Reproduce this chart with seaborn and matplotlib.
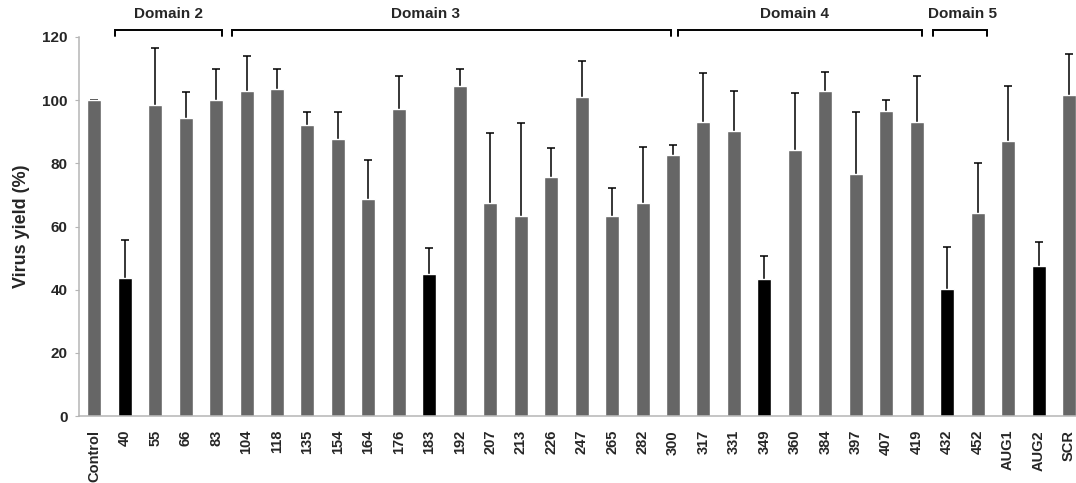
import matplotlib
matplotlib.use("Agg")
import matplotlib.pyplot as plt
import seaborn as sns
import pandas as pd
import numpy as np

# ---- data ----
labels = ["Control", "40", "55", "66", "83", "104", "118", "135", "154", "164",
          "176", "183", "192", "207", "213", "226", "247", "265", "282", "300",
          "317", "331", "349", "360", "384", "397", "407", "419", "432", "452",
          "AUG1", "AUG2", "SCR"]
yields = [100.0, 43.7, 98.6, 94.2, 100.0, 103.0, 103.6, 92.1, 87.6, 68.8,
          97.1, 44.9, 104.5, 67.4, 63.3, 75.8, 101.0, 63.3, 67.4, 82.5,
          93.2, 90.1, 43.4, 84.1, 102.9, 76.7, 96.6, 93.2, 40.1, 64.4,
          87.1, 47.6, 101.6]
err_upper = [100.2, 55.6, 116.5, 102.7, 110.0, 114.0, 110.0, 96.2, 96.2, 81.2,
             107.5, 53.2, 110.0, 89.7, 92.7, 84.9, 112.5, 72.3, 85.3, 85.7,
             108.7, 103.0, 50.7, 102.2, 109.0, 96.1, 100.2, 107.5, 53.5, 80.2,
             104.5, 55.2, 114.5]
significant = ["40", "183", "349", "432", "AUG2"]

domain_names = ["Domain 2", "Domain 3", "Domain 4", "Domain 5"]
domain_spans = [(0.68, 4.18), (4.52, 18.93), (19.18, 27.19), (27.54, 29.31)]
domain_label_x = [2.43, 10.86, 23.0, 28.49]

# ---- style ----
sns.set_theme(style="white")
plt.rcParams["font.family"] = ["Liberation Sans", "DejaVu Sans"]
plt.rcParams["font.weight"] = "bold"

df = pd.DataFrame({"label": labels, "yield": yields})
gray = "#666666"
palette = {l: ("#000000" if l in significant else gray) for l in labels}

fig = plt.figure(figsize=(10.76, 4.83), dpi=100)
ax = fig.add_axes([0.0734, 0.1387, 0.9266, 0.7847])

sns.barplot(data=df, x="label", y="yield", hue="label", palette=palette,
            order=labels, hue_order=labels, width=0.46, legend=False,
            saturation=1, ax=ax, errorbar=None, zorder=2)

pos = np.arange(len(labels))
yv = np.array(yields)
up = np.array(err_upper) - yv
eb = ax.errorbar(pos, yv, yerr=[np.zeros_like(up), up], fmt="none",
                 ecolor="black", elinewidth=1.1, capsize=2.6, capthick=1.1,
                 zorder=1)
# hide the lower caps (only upward error bars are shown)
if len(eb[1]) >= 2:
    eb[1][0].set_visible(False)

ax.set_ylim(0, 120)
ax.set_xlim(-0.5, 32.23)
ax.set_yticks([0, 20, 40, 60, 80, 100, 120])
ax.set_xlabel("")
ax.set_ylabel("Virus yield (%)", fontsize=13, fontweight="bold", labelpad=9)

for s in ["top", "right"]:
    ax.spines[s].set_visible(False)
for s in ["left", "bottom"]:
    ax.spines[s].set_color("#b5b5b5")
    ax.spines[s].set_linewidth(1.1)

ax.tick_params(axis="y", which="both", left=True, length=3, width=0.8,
               color="#b5b5b5", pad=5, labelsize=11)
ax.tick_params(axis="x", bottom=False, pad=4, labelsize=10.5)
plt.setp(ax.get_xticklabels(), rotation=90, fontweight="bold")
plt.setp(ax.get_yticklabels(), fontweight="bold")

# ---- domain brackets ----
trans = ax.get_xaxis_transform()
y_line = 1.018
y_tick = 1.003
for name, (x0, x1), lx in zip(domain_names, domain_spans, domain_label_x):
    ax.plot([x0, x0, x1, x1], [y_tick, y_line, y_line, y_tick], transform=trans,
            color="black", lw=1.4, clip_on=False, solid_joinstyle="miter")
    ax.text(lx, 1.06, name, transform=trans, ha="center", va="center",
            fontsize=11, fontweight="bold")

fig.savefig("out.png", dpi=100)
